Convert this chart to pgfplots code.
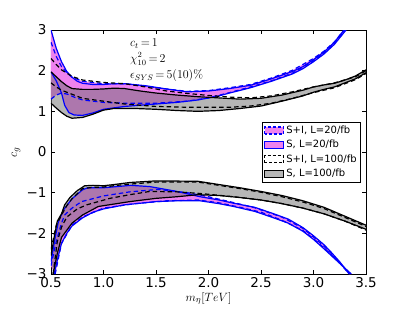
\documentclass[border=0pt]{standalone}
\usepackage[no-math]{fontspec}
\setmainfont{DejaVu Sans}
\usepackage{pgfplots}
\pgfplotsset{compat=1.18}
\usepgfplotslibrary{fillbetween}
\definecolor{violetc}{RGB}{238,130,238}
\definecolor{grayc}{RGB}{110,110,110}
\definecolor{graylg}{RGB}{182,182,182}
\begin{document}
\begin{tikzpicture}
\begin{axis}[
  set layers,
  at={(0,0)}, anchor=south west,
  width=315pt, height=244pt, scale only axis,
  xmin=0.5, xmax=3.5, ymin=-3, ymax=3,
  xtick={0.5,1.0,1.5,2.0,2.5,3.0,3.5},
  xticklabels={0.5,1.0,1.5,2.0,2.5,3.0,3.5},
  ytick={-3,-2,-1,0,1,2,3},
  yticklabels={−3,−2,−1,0,1,2,3},
  tick label style={font=\fontsize{13.5}{16}\selectfont},
  yticklabel style={xshift=-1pt},
  tick align=inside, major tick length=4pt,
  axis line style={line width=0.9pt},
  every tick/.style={black, line width=0.6pt},
  xlabel={$m_\eta[TeV]$},
  ylabel={$c_g$},
  label style={font=\fontsize{13}{15}\selectfont},
  xlabel style={at={(axis description cs:0.5,-0.1)}, anchor=center},
  ylabel style={at={(axis description cs:-0.111,0.5)}, anchor=center},
  legend image code/.code={\draw[#1] (0pt,-3.5pt) rectangle (19pt,3.5pt);},
  legend style={at={(0.984,0.624)}, anchor=north east, draw=black, line width=0.6pt,
    font=\fontsize{10}{12}\selectfont, inner sep=2pt, row sep=1.2pt,
    cells={anchor=west}},
  clip=true,
]
% ---------------- upper region ----------------
\addplot[forget plot, name path=sia, blue, line width=1.2pt, dash pattern=on 4.5pt off 3pt] coordinates {
(0.5,2.7)(0.55,2.35)(0.6,2.1)(0.65,1.95)(0.7,1.84)(0.8,1.74)(1.0,1.68)(1.2,1.68)(1.4,1.62)(1.6,1.55)(1.8,1.49)(2.0,1.51)(2.2,1.58)(2.4,1.66)(2.6,1.82)(2.8,2.01)(3.0,2.3)(3.1,2.48)(3.2,2.71)(3.3,3.03)};
\addplot[forget plot, name path=sib, blue, line width=1.2pt, dash pattern=on 4.5pt off 3pt] coordinates {
(0.5,1.3)(0.55,1.4)(0.6,1.45)(0.66,1.42)(0.72,1.35)(0.8,1.28)(1.0,1.22)(1.2,1.2)(1.5,1.2)(1.8,1.25)(2.0,1.33)(2.2,1.46)(2.4,1.6)(2.6,1.75)(2.8,1.94)(3.0,2.24)(3.1,2.43)(3.2,2.67)(3.3,3.0)};
\addplot[forget plot, violetc] fill between[of=sia and sib];
\addplot[forget plot, name path=sa, blue, line width=1.2pt] coordinates {
(0.5,3.0)(0.55,2.55)(0.6,2.22)(0.65,1.98)(0.7,1.84)(0.75,1.74)(0.8,1.69)(0.9,1.66)(1.0,1.66)(1.1,1.68)(1.2,1.68)(1.4,1.63)(1.6,1.55)(1.8,1.48)(2.0,1.5)(2.2,1.56)(2.4,1.64)(2.6,1.8)(2.8,1.98)(2.9,2.1)(3.0,2.27)(3.1,2.46)(3.2,2.7)(3.29,3.0)};
\addplot[forget plot, name path=sb, blue, line width=1.2pt] coordinates {
(0.5,1.97)(0.55,1.75)(0.6,1.45)(0.63,1.15)(0.67,0.97)(0.72,0.91)(0.8,0.9)(0.9,0.96)(1.0,1.05)(1.2,1.12)(1.5,1.18)(1.7,1.22)(1.9,1.28)(2.1,1.38)(2.2,1.45)(2.4,1.58)(2.6,1.74)(2.8,1.92)(2.9,2.05)(3.0,2.22)(3.1,2.41)(3.2,2.65)(3.31,3.0)};
\addplot[forget plot, violetc] fill between[of=sa and sb];
\addplot[forget plot, name path=ga, black, line width=1.2pt] coordinates {
(0.5,1.97)(0.55,1.85)(0.6,1.73)(0.65,1.63)(0.7,1.56)(0.8,1.54)(0.9,1.54)(1.0,1.55)(1.1,1.57)(1.2,1.56)(1.35,1.5)(1.5,1.45)(1.7,1.4)(1.9,1.36)(2.1,1.33)(2.3,1.3)(2.5,1.32)(2.7,1.4)(2.9,1.52)(3.0,1.6)(3.1,1.65)(3.2,1.69)(3.3,1.77)(3.4,1.87)(3.5,2.02)};
\addplot[forget plot, name path=gb, black, line width=1.2pt] coordinates {
(0.5,1.2)(0.55,1.08)(0.6,0.97)(0.65,0.88)(0.7,0.83)(0.8,0.85)(0.9,0.93)(1.0,1.03)(1.1,1.07)(1.3,1.07)(1.5,1.05)(1.7,1.02)(1.9,1.0)(2.1,1.02)(2.3,1.07)(2.5,1.13)(2.7,1.25)(2.9,1.38)(3.0,1.47)(3.1,1.54)(3.2,1.6)(3.3,1.7)(3.4,1.8)(3.5,1.95)};
\addplot[forget plot, grayc, fill opacity=0.5] fill between[of=ga and gb];
\addplot[forget plot, black, line width=1.2pt, dash pattern=on 4.5pt off 3pt] coordinates {
(0.5,2.3)(0.55,2.15)(0.6,2.02)(0.7,1.86)(0.8,1.77)(1.0,1.71)(1.2,1.68)(1.4,1.6)(1.6,1.5)(1.8,1.44)(2.0,1.39)(2.2,1.35)(2.4,1.33)(2.6,1.38)(2.8,1.48)(3.0,1.6)(3.2,1.7)(3.4,1.85)(3.5,2.0)};
\addplot[forget plot, black, line width=1.2pt, dash pattern=on 4.5pt off 3pt] coordinates {
(0.5,1.7)(0.55,1.6)(0.6,1.52)(0.7,1.42)(0.8,1.32)(1.0,1.25)(1.2,1.18)(1.5,1.12)(1.8,1.1)(2.0,1.1)(2.2,1.1)(2.4,1.13)(2.6,1.2)(2.8,1.32)(3.0,1.46)(3.2,1.58)(3.4,1.78)(3.5,1.93)};
% ---------------- lower region ----------------
\addplot[forget plot, name path=lsia, blue, line width=1.2pt, dash pattern=on 4.5pt off 3pt] coordinates {
(0.5,-2.8)(0.55,-2.2)(0.6,-1.75)(0.63,-1.55)(0.7,-1.38)(0.79,-1.22)(1.0,-1.08)(1.25,-0.98)(1.52,-0.92)(1.8,-1.0)(2.0,-1.1)(2.2,-1.22)(2.44,-1.37)(2.7,-1.6)(2.9,-1.88)(3.0,-2.09)(3.1,-2.32)(3.2,-2.58)(3.34,-3.0)};
\addplot[forget plot, name path=lsib, blue, line width=1.2pt, dash pattern=on 4.5pt off 3pt] coordinates {
(0.54,-3.0)(0.6,-2.25)(0.7,-1.8)(0.8,-1.6)(1.0,-1.38)(1.3,-1.27)(1.6,-1.2)(1.9,-1.18)(2.1,-1.25)(2.3,-1.36)(2.5,-1.48)(2.7,-1.68)(2.9,-1.93)(3.0,-2.13)(3.1,-2.36)(3.2,-2.6)(3.35,-3.0)};
\addplot[forget plot, violetc] fill between[of=lsia and lsib];
\addplot[forget plot, name path=lsa, blue, line width=1.2pt] coordinates {
(0.5,-2.7)(0.54,-2.1)(0.57,-1.72)(0.62,-1.42)(0.7,-1.15)(0.8,-0.93)(0.85,-0.88)(1.0,-0.88)(1.26,-0.82)(1.44,-0.85)(1.7,-0.97)(1.92,-1.1)(2.1,-1.18)(2.24,-1.26)(2.44,-1.36)(2.6,-1.5)(2.76,-1.65)(2.9,-1.86)(3.0,-2.06)(3.1,-2.28)(3.17,-2.47)(3.25,-2.7)(3.34,-3.0)};
\addplot[forget plot, name path=lsb, blue, line width=1.2pt] coordinates {
(0.53,-3.0)(0.57,-2.55)(0.6,-2.25)(0.65,-2.0)(0.7,-1.82)(0.8,-1.62)(0.9,-1.48)(1.0,-1.4)(1.2,-1.3)(1.5,-1.22)(1.7,-1.2)(1.92,-1.2)(2.1,-1.27)(2.24,-1.34)(2.44,-1.46)(2.6,-1.6)(2.76,-1.75)(2.9,-1.95)(3.0,-2.15)(3.1,-2.38)(3.2,-2.62)(3.36,-3.0)};
\addplot[forget plot, violetc] fill between[of=lsa and lsb];
\addplot[forget plot, name path=lga, black, line width=1.2pt] coordinates {
(0.5,-2.55)(0.53,-2.1)(0.56,-1.7)(0.6,-1.52)(0.63,-1.3)(0.68,-1.12)(0.75,-0.95)(0.82,-0.83)(0.9,-0.82)(1.0,-0.83)(1.1,-0.8)(1.25,-0.75)(1.5,-0.71)(1.9,-0.72)(2.1,-0.8)(2.3,-0.88)(2.5,-0.97)(2.7,-1.07)(2.9,-1.2)(3.1,-1.36)(3.3,-1.58)(3.5,-1.8)};
\addplot[forget plot, name path=lgb, black, line width=1.2pt] coordinates {
(0.52,-3.0)(0.56,-2.5)(0.6,-2.1)(0.7,-1.75)(0.8,-1.55)(0.95,-1.34)(1.25,-1.22)(1.5,-1.14)(1.7,-1.1)(1.9,-1.05)(2.1,-1.07)(2.3,-1.12)(2.5,-1.18)(2.7,-1.27)(2.9,-1.38)(3.1,-1.52)(3.3,-1.7)(3.5,-1.9)};
\addplot[forget plot, grayc, fill opacity=0.5] fill between[of=lga and lgb];
\addplot[forget plot, black, line width=1.2pt, dash pattern=on 4.5pt off 3pt] coordinates {
(0.5,-2.4)(0.55,-1.8)(0.6,-1.55)(0.65,-1.32)(0.7,-1.15)(0.8,-0.9)(0.9,-0.87)(1.0,-0.86)(1.2,-0.8)(1.5,-0.74)(1.9,-0.74)(2.1,-0.82)(2.3,-0.9)(2.5,-0.99)(2.7,-1.1)(2.9,-1.23)(3.1,-1.39)(3.3,-1.61)(3.5,-1.83)};
\addplot[forget plot, black, line width=1.2pt, dash pattern=on 4.5pt off 3pt] coordinates {
(0.52,-3.0)(0.56,-2.2)(0.6,-1.85)(0.65,-1.6)(0.75,-1.4)(0.84,-1.3)(1.06,-1.14)(1.25,-1.05)(1.44,-0.97)(1.7,-0.98)(1.92,-1.02)(2.24,-1.1)(2.5,-1.18)(2.7,-1.27)(2.9,-1.38)(3.1,-1.52)(3.3,-1.7)(3.5,-1.92)};
% ---------------- annotations ----------------
\node[anchor=base west, font=\fontsize{11.5}{14}\selectfont, inner sep=0pt] at (axis cs:1.252,2.59) {$c_t\,{=}\,1$};
\node[anchor=base west, font=\fontsize{11.5}{14}\selectfont, inner sep=0pt] at (axis cs:1.252,2.21) {$\chi^2_{10}\,{=}\,2$};
\node[anchor=base west, font=\fontsize{11.5}{14}\selectfont, inner sep=0pt] at (axis cs:1.252,1.81) {$\epsilon_{SYS}\,{=}\,5(10)\%$};
% ---------------- legend ----------------
\addlegendimage{draw=blue, line width=1.2pt, dash pattern=on 3pt off 2pt, fill=violetc}
\addlegendentry{S+I, L=20/fb}
\addlegendimage{draw=blue, line width=1.2pt, fill=violetc}
\addlegendentry{S, L=20/fb}
\addlegendimage{draw=black, line width=1.2pt, dash pattern=on 3pt off 2pt, fill=white}
\addlegendentry{S+I, L=100/fb}
\addlegendimage{draw=black, line width=0.8pt, fill=graylg}
\addlegendentry{S, L=100/fb}
\end{axis}
\path (-51pt,-31pt) rectangle (356pt,274pt);
\end{tikzpicture}
\end{document}
